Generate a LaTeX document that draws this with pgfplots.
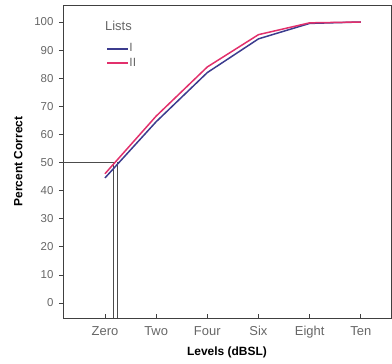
\documentclass[border=0pt]{standalone}
\usepackage{pgfplots}
\pgfplotsset{compat=1.18}
\usepackage{fontspec}
\setmainfont{Liberation Sans}
\definecolor{lblue}{HTML}{3C3C8E}
\definecolor{lred}{HTML}{E2306C}
\definecolor{tgray}{HTML}{666666}
\begin{document}
\begin{tikzpicture}
\begin{axis}[
  name=ax,
  scale only axis,
  width=328bp, height=313bp,
  xmin=-0.82, xmax=5.59,
  ymin=-5.34, ymax=106.05,
  axis line style={black!75, line width=0.8pt},
  xtick={0,1,2,3,4,5},
  xticklabels={Zero,Two,Four,Six,Eight,Ten},
  ytick={0,10,...,100},
  tick style={black!75, line width=0.7pt},
  xtick align=inside, ytick align=outside,
  major tick length=4bp,
  xtick pos=bottom, ytick pos=left,
  xticklabel style={font=\fontsize{13}{15}\selectfont, text=tgray, yshift=-5bp},
  yticklabel style={font=\fontsize{11.5}{13}\selectfont, text=tgray, xshift=-2bp},
  /pgf/number format/assume math mode=true,
  xlabel={\textbf{Levels (dBSL)}},
  ylabel={\textbf{Percent Correct}},
  label style={font=\fontsize{12}{14}\selectfont},
  xlabel style={yshift=-1bp},
  ylabel style={yshift=5bp},
  legend cell align=left,
  legend style={at={(axis cs:0.02,92.5)}, anchor=north west, draw=none, fill=none,
    font=\fontsize{12}{13}\selectfont, inner sep=0pt, row sep=4bp,
    nodes={inner sep=0.5pt}},
  legend image code/.code={\draw[#1, line width=1.8pt] (0bp,0bp) -- (21bp,0bp);},
]
\addplot[black!70, line width=0.8pt, forget plot] coordinates {(-0.82,50) (0.2,50)};
\addplot[black!70, line width=0.8pt, forget plot] coordinates {(0.16,-5.34) (0.16,50)};
\addplot[black!70, line width=0.8pt, forget plot] coordinates {(0.25,-5.34) (0.25,50)};
\addplot[draw=lblue, color=lblue, line width=1.5pt] coordinates {(0,44.5) (1,64.5) (2,82) (3,94) (4,99.5) (5,100)};
\addlegendentry{\textcolor{tgray}{I}}
\addplot[draw=lred, color=lred, line width=1.5pt] coordinates {(0,46) (1,66.5) (2,84) (3,95.5) (4,99.7) (5,100)};
\addlegendentry{\textcolor{tgray}{II}}
\node[anchor=west, text=tgray, font=\fontsize{13}{15}\selectfont, inner sep=0pt] at (axis cs:0.0,98.5) {Lists};
\end{axis}
\pgfresetboundingbox
\path ([shift={(-63bp,-46bp)}]ax.south west) rectangle ([shift={(1bp,5bp)}]ax.north east);
\end{tikzpicture}
\end{document}
